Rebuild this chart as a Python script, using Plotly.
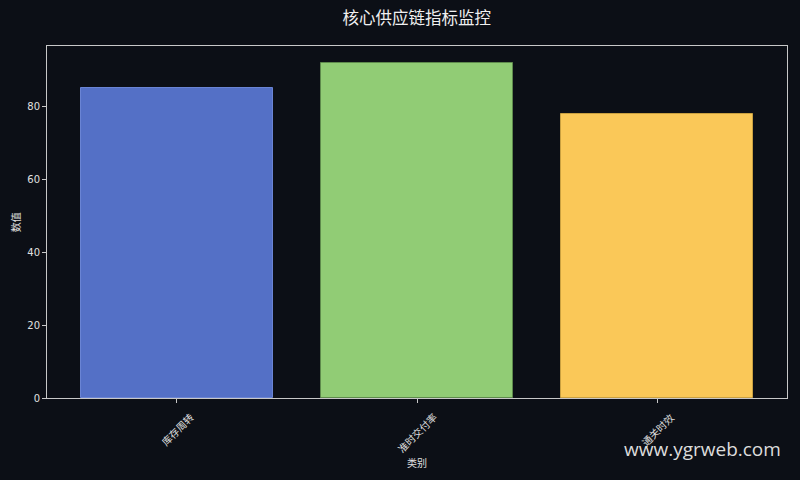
import plotly.graph_objects as go

# Data
categories = ['库存周转', '准时交付率', '通关时效']
values = [85, 92, 78]
bar_colors = ['#5470c6', '#91cc75', '#fac858']
edge_colors = ['#6a84d4', '#5e8a4c', '#c9a040']

title_text = '核心供应链指标监控'
x_title = '类别'
y_title = '数值'
watermark = 'www.ygrweb.com'

BG = '#0c0f16'
AXIS = '#c8c8c8'
TEXT = '#e0e0e0'
FONT = 'Noto Sans CJK SC, DejaVu Sans, sans-serif'

fig = go.Figure()
fig.add_trace(go.Bar(
    x=list(range(len(categories))),
    y=values,
    width=0.8,
    marker=dict(color=bar_colors, line=dict(color=edge_colors, width=1)),
    hoverinfo='skip',
))

# rotated tick labels centred under each tick (matplotlib style)
annotations = []
for i, cat in enumerate(categories):
    annotations.append(dict(
        x=i, y=-0.025, xref='x', yref='paper',
        text=cat, showarrow=False, textangle=-45,
        xanchor='center', yanchor='top',
        font=dict(size=10, color=TEXT, family=FONT),
    ))
# axis titles
annotations.append(dict(
    x=0.5, y=-0.182, xref='paper', yref='paper', text=x_title, showarrow=False,
    xanchor='center', yanchor='middle',
    font=dict(size=10, color=TEXT, family=FONT),
))
annotations.append(dict(
    x=-0.043, y=0.5, xref='paper', yref='paper', text=y_title, showarrow=False,
    xanchor='center', yanchor='middle', textangle=-90,
    font=dict(size=10, color=TEXT, family=FONT),
))
# watermark
annotations.append(dict(
    x=0.994, y=-0.145, xref='paper', yref='paper', text=watermark, showarrow=False,
    xanchor='right', yanchor='middle',
    font=dict(size=19, color='#dcdcdc', family='Open Sans, Noto Sans, sans-serif'),
))

fig.update_layout(
    width=800, height=480,
    paper_bgcolor=BG, plot_bgcolor=BG,
    margin=dict(l=47, r=13, t=46, b=82),
    showlegend=False,
    bargap=0,
    font=dict(family=FONT, color=TEXT, size=10),
    title=dict(text=title_text, x=0.521, xanchor='center', y=0.962, yanchor='middle',
               font=dict(size=16.5, color='#f0f0f0', family=FONT)),
    annotations=annotations,
)
fig.update_xaxes(
    range=[-0.54, 2.54], showgrid=False, zeroline=False,
    tickmode='array', tickvals=list(range(len(categories))), ticktext=['' for _ in categories],
    ticks='outside', ticklen=4, tickcolor=AXIS,
    showline=True, linecolor=AXIS, linewidth=1, mirror=True,
)
fig.update_yaxes(
    range=[0, 96.6], showgrid=False, zeroline=False,
    tickvals=[0, 20, 40, 60, 80],
    ticks='outside', ticklen=4, tickcolor=AXIS,
    tickfont=dict(size=10, color=TEXT, family='DejaVu Sans'),
    showline=True, linecolor=AXIS, linewidth=1, mirror=True,
)

fig.write_html('out.html', config={'displayModeBar': False},
               post_script="document.body.style.margin='0';document.body.style.background='#0c0f16';")
